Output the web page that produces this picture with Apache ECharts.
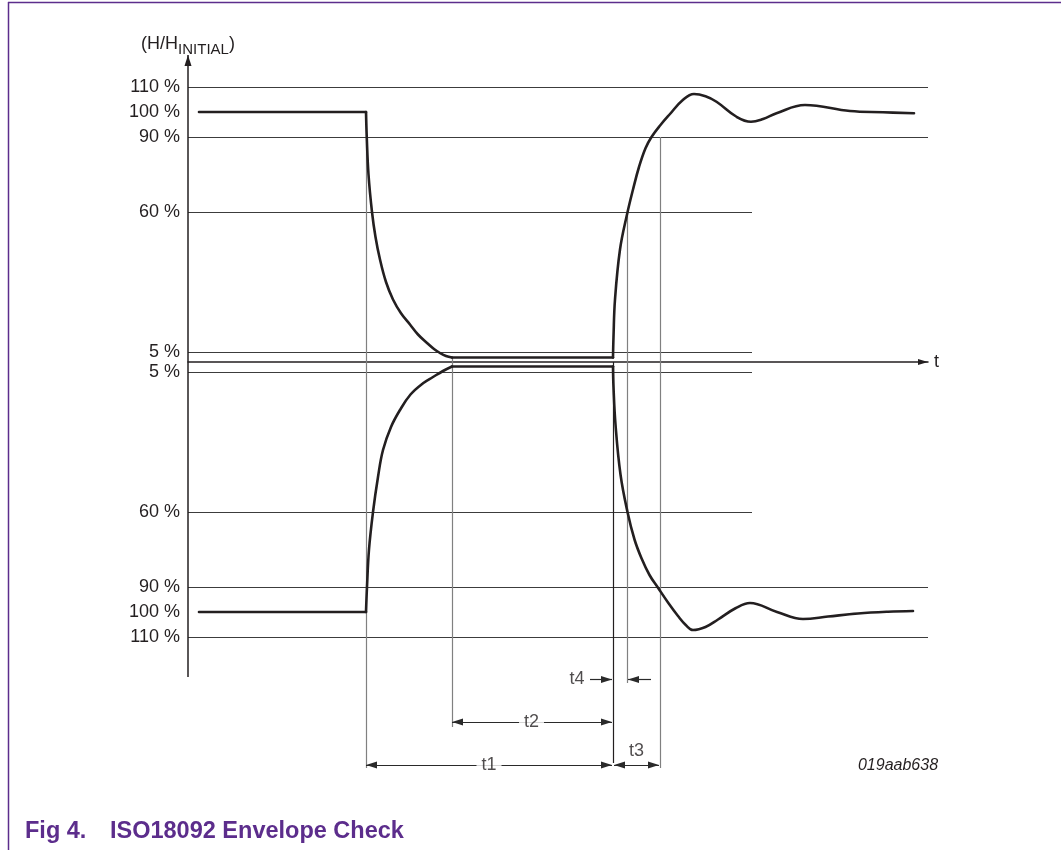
<!DOCTYPE html>
<html>
<head>
<meta charset="utf-8">
<title>ISO18092 Envelope Check</title>
<script src="https://cdn.jsdelivr.net/npm/echarts@6/dist/echarts.min.js"></script>
<style>
    html, body { margin: 0; padding: 0; background: #fff; }
    #main { width: 1061px; height: 850px; }
</style>
</head>
<body>
<div id="main"></div>
<script>
// 包络数据: [t, H/Hinitial %]，上半为正包络，下半为负包络
var highLevel = [[2.2, 100], [35.6, 100]];
var fallUpper = [[35.6, 100], [35.75, 90], [36.1, 75], [36.8, 60], [37.5, 50], [38.4, 41], [39.6, 32], [41, 25],
    [42.6, 19.5], [44.4, 15], [46, 11], [47.8, 7.6], [49.2, 5.2], [50.4, 3.6], [51.6, 2.4], [52.8, 1.8]];
var holdUpper = [[52.8, 1.8], [85, 1.8]];
var riseUpper = [[85, 1.8], [85.1, 10], [85.4, 25], [86.4, 45], [87.8, 59], [89, 69], [90.2, 78], [91.5, 85.5],
    [92.7, 90], [94.5, 94.8], [96.4, 99.2], [98.8, 104.5], [101.2, 107.2], [103.5, 106.3], [105.7, 104.1],
    [109.7, 98.1], [112.6, 96.1], [115, 97.2], [117.7, 99.5], [123.4, 102.8], [132.4, 100.4], [139, 99.9], [145.2, 99.5]];

var lowLevel = [[2.2, -100], [35.6, -100]];
var fallLower = [[35.6, -100], [35.8, -90], [36.2, -75], [37, -60], [38, -46], [39, -35.2], [40.6, -26],
    [42.4, -19.2], [44.5, -13], [47, -8.5], [49, -6], [51, -3.6], [52.8, -1.8]];
var holdLower = [[52.8, -1.8], [85, -1.8]];
var riseLower = [[85, -1.8], [85.1, -10], [85.5, -25], [86.5, -45], [87.9, -60], [89.3, -71], [90.7, -78.5],
    [92.3, -85.2], [94, -90.3], [96, -96.2], [98, -101.6], [99.6, -105.3], [101, -107.2], [103.5, -106],
    [106, -103], [109.5, -98.5], [112.4, -96.4], [117.8, -100], [123, -102.8], [128, -101.8], [134, -100.6],
    [140, -99.9], [145, -99.6]];

// 纵轴刻度
var yTickValues = [110, 100, 90, 60, 3.9, -3.9, -60, -90, -100, -110];
var yTickLabels = ['110 %', '100 %', '90 %', '60 %', '5 %', '5 %', '60 %', '90 %', '100 %', '110 %'];

// 限值线及其结束时间
var levels = [110, 90, 60, 3.9, -3.9, -60, -90, -110];
var levelEnds = [148, 148, 112.8, 112.8, 112.8, 112.8, 148, 148];

// 时间点
var tFieldOff = 35.6, tSettled = 52.8, tFieldOn = 85, tAt60 = 87.8, tAt90 = 94.4, tAxisEnd = 148;
// 标注行 (纵轴单位，位于 t 轴下方)
var rowT4 = -127, rowT2 = -144, rowT1 = -161.2, rowT3Text = -155.6;
var tNames = ['t1', 't2', 't3', 't4'];
var tNameAt = [[60.2, rowT1], [68.7, rowT2], [89.7, rowT3Text], [77.8, rowT4]];

var ink = '#231f20';
var guideGray = '#808080';
var purple = '#5c2d8c';
var font = '"Liberation Sans", Arial, Helvetica, sans-serif';
var arrowHead = 'path://M3.5,0L7,11L0,11Z';

function seg(x1, y1, x2, y2) {
    return [{coord: [x1, y1]}, {coord: [x2, y2]}];
}

function lineLayer(lines, color, width, symbol, z) {
    return {
        type: 'line', data: [], silent: true, z: z || 2, color: color,
        markLine: {
            silent: true, animation: false,
            symbol: symbol || 'none',
            symbolSize: 11,
            symbolKeepAspect: true,
            symbolOffset: [[0, 5.5], [0, 5.5]],
            label: {show: false},
            itemStyle: {color: color},
            lineStyle: {color: color, width: width, type: 'solid'},
            emphasis: {disabled: true},
            data: lines
        }
    };
}

function signal(data, smooth) {
    return {
        type: 'line', data: data, smooth: smooth ? 0.4 : false,
        symbol: 'none', showSymbol: false, silent: true, z: 5,
        lineStyle: {color: ink, width: 2.6, cap: 'round', join: 'round'}
    };
}

var levelLines = levels.map(function (v, i) {
    return seg(0, v, levelEnds[i], v);
});

var guideLines = [
    seg(tFieldOff, 100, tFieldOff, -162.4),
    seg(tSettled, 1.8, tSettled, -146),
    seg(tAt60, 60, tAt60, -128.4),
    seg(tAt90, 90, tAt90, -162.4)
];

var option = {
    animation: false,
    backgroundColor: '#fff',
    textStyle: {fontFamily: font, color: ink},
    grid: {left: 188, top: 55, width: 740, height: 735, outerBoundsMode: 'none', containLabel: false},
    xAxis: {
        type: 'value', min: 0, max: tAxisEnd,
        axisLine: {
            show: true, onZero: true,
            symbol: ['none', 'triangle'], symbolSize: [6, 10], symbolOffset: [0, -5],
            lineStyle: {color: ink, width: 1.5}
        },
        axisTick: {show: false},
        axisLabel: {show: false},
        splitLine: {show: false},
        name: 't', nameLocation: 'end', nameGap: 6,
        nameTextStyle: {fontSize: 18, color: ink, fontFamily: font, verticalAlign: 'middle'}
    },
    yAxis: {
        type: 'value', min: -171.2, max: 122.8,
        axisLine: {show: false},
        axisTick: {show: false},
        splitLine: {show: false},
        axisLabel: {
            customValues: yTickValues,
            fontSize: 18, color: ink, fontFamily: font, margin: 8,
            formatter: function (v) {
                var i = yTickValues.indexOf(v);
                return i >= 0 ? yTickLabels[i] : '';
            }
        },
        name: '{a|(H/H}{b|INITIAL}{a|)}', nameLocation: 'end', nameGap: 2,
        nameTextStyle: {
            rich: {
                a: {fontSize: 18, lineHeight: 18, color: ink, fontFamily: font},
                b: {fontSize: 15, lineHeight: 15, color: ink, fontFamily: font, padding: [12, 0, 0, 0]}
            }
        }
    },
    series: [
        lineLayer(levelLines, '#3c3c3c', 1),
        lineLayer(guideLines, guideGray, 1.2),
        lineLayer([seg(tFieldOn, 0, tFieldOn, -160.4)], ink, 1.2),
        // H 轴
        lineLayer([seg(0, -126, 0, 122.8)], ink, 1.5, ['none', arrowHead], 3),
        // t1 t2 t3 尺寸线
        lineLayer([
            seg(tFieldOff, rowT1, tFieldOn - 0.2, rowT1),
            seg(tSettled, rowT2, tFieldOn - 0.2, rowT2),
            seg(tFieldOn + 0.2, rowT1, tAt90 - 0.2, rowT1)
        ], '#2a2a2a', 1.2, [arrowHead, arrowHead], 3),
        // t4 指示箭头
        lineLayer([
            seg(80.4, rowT4, tFieldOn - 0.2, rowT4),
            seg(92.6, rowT4, tAt60 + 0.2, rowT4)
        ], '#2a2a2a', 1.2, ['none', arrowHead], 3),
        signal(highLevel, false),
        signal(fallUpper, true),
        signal(holdUpper, false),
        signal(riseUpper, true),
        signal(lowLevel, false),
        signal(fallLower, true),
        signal(holdLower, false),
        signal(riseLower, true),
        {
            type: 'scatter', silent: true, z: 8, symbolSize: 1,
            itemStyle: {color: 'rgba(0,0,0,0)'},
            data: tNames.map(function (n, i) {
                return [tNameAt[i][0], tNameAt[i][1], n];
            }),
            label: {
                show: true, position: 'inside',
                formatter: function (p) { return p.value[2]; },
                fontSize: 18, color: ink, fontFamily: font,
                backgroundColor: '#fff', padding: [1, 5]
            }
        }
    ],
    graphic: [
        {type: 'line', silent: true, shape: {x1: 8, y1: 2.5, x2: 1061, y2: 2.5}, style: {stroke: purple, lineWidth: 1.5}},
        {type: 'line', silent: true, shape: {x1: 8.5, y1: 2, x2: 8.5, y2: 850}, style: {stroke: purple, lineWidth: 1.5}},
        {
            type: 'text', x: 898, y: 766, silent: true,
            style: {text: '019aab638', fontSize: 16, fontStyle: 'italic', fontFamily: font, fill: ink, align: 'center', verticalAlign: 'middle'}
        },
        {
            type: 'text', x: 25, y: 832, silent: true,
            style: {text: 'Fig 4.', fontSize: 23.5, fontWeight: 'bold', fontFamily: font, fill: purple, verticalAlign: 'middle'}
        },
        {
            type: 'text', x: 110, y: 832, silent: true,
            style: {text: 'ISO18092 Envelope Check', fontSize: 23.5, fontWeight: 'bold', fontFamily: font, fill: purple, verticalAlign: 'middle'}
        }
    ]
};

var chart = echarts.init(document.getElementById('main'));
chart.setOption(option);
</script>
</body>
</html>
